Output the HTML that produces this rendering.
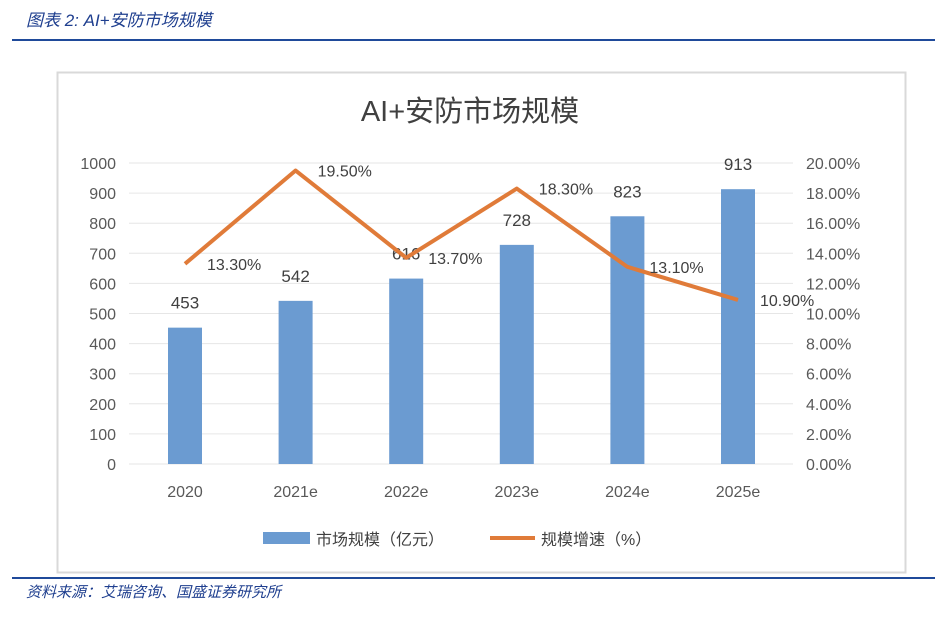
<!DOCTYPE html>
<html><head><meta charset="utf-8"><style>
body{margin:0;background:#fff;width:946px;height:620px;overflow:hidden;font-family:"Liberation Sans","Noto Sans CJK SC",sans-serif}
</style></head><body>
<svg width="946" height="620" xmlns="http://www.w3.org/2000/svg" font-family="Liberation Sans, Noto Sans CJK SC, sans-serif">
<text x="26" y="26" font-size="17" font-style="italic" fill="#1f3f8f">图表 2:  AI+安防市场规模</text>
<rect x="12" y="39" width="923" height="2" fill="#1f4a9a"/>
<rect x="57.5" y="72.5" width="848" height="500" fill="#fff" stroke="#d9d9d9" stroke-width="2"/>
<rect x="12" y="577" width="923" height="2" fill="#1f4a9a"/>
<text x="26" y="597" font-size="15" font-style="italic" fill="#1f3f8f">资料来源：艾瑞咨询、国盛证券研究所</text>
<text x="470" y="121" font-size="29" fill="#404040" text-anchor="middle">AI+安防市场规模</text>
<g id="axes"></g><g id="bars"></g><g id="line"></g>
<g>
<rect x="263" y="532" width="47" height="12" fill="#6b9bd1"/>
<text x="316" y="545" font-size="16" fill="#404040">市场规模（亿元）</text>
<line x1="490" y1="538" x2="535" y2="538" stroke="#e07b39" stroke-width="4"/>
<text x="541" y="545" font-size="16" fill="#404040">规模增速（%）</text>
</g>
</svg>
<script>
const categories=["2020","2021e","2022e","2023e","2024e","2025e"];
const marketSize=[453,542,616,728,823,913];
const growth=[13.3,19.5,13.7,18.3,13.1,10.9];
const leftTicks=[0,100,200,300,400,500,600,700,800,900,1000];
const rightTicks=[0,2,4,6,8,10,12,14,16,18,20];
const NS="http://www.w3.org/2000/svg";
const y0=464,y1=163;
const yL=v=>y0-(v/1000)*(y0-y1);
const yR=v=>y0-(v/20)*(y0-y1);
const xC=i=>185+i*110.6;
function mk(t,a,p){const e=document.createElementNS(NS,t);for(const k in a)e.setAttribute(k,a[k]);p.appendChild(e);return e;}
const ax=document.getElementById('axes'),bg=document.getElementById('bars'),lg=document.getElementById('line');
leftTicks.forEach(v=>{const g=mk('line',{x1:129,x2:793,y1:yL(v),y2:yL(v),stroke:'#e6e6e6','stroke-width':1},ax);


const t=mk('text',{x:116,y:yL(v)+6,'font-size':16,fill:'#595959','text-anchor':'end'},ax);t.textContent=v;

});
rightTicks.forEach(v=>{const t=mk('text',{x:806,y:yR(v)+6,'font-size':16,fill:'#595959'},ax);t.textContent=v.toFixed(2)+'%';

});
categories.forEach((c,i)=>{const t=mk('text',{x:xC(i),y:497,'font-size':16,fill:'#595959','text-anchor':'middle'},ax);t.textContent=c;

});
marketSize.forEach((v,i)=>{const r=mk('rect',{x:xC(i)-17,y:yL(v),width:34,height:y0-yL(v),fill:'#6b9bd1'},bg);


const t=mk('text',{x:xC(i),y:yL(v)-19,'font-size':17,fill:'#404040','text-anchor':'middle'},bg);t.textContent=v;

});
const pts=growth.map((g,i)=>xC(i)+','+yR(g)).join(' ');
const pl=mk('polyline',{points:pts,fill:'none',stroke:'#e07b39','stroke-width':4,'stroke-linejoin':'round'},lg);


growth.forEach((g,i)=>{const t=mk('text',{x:xC(i)+22,y:yR(g)+6,'font-size':16,fill:'#404040'},lg);t.textContent=g.toFixed(2)+'%';

});
</script>
</body></html>
